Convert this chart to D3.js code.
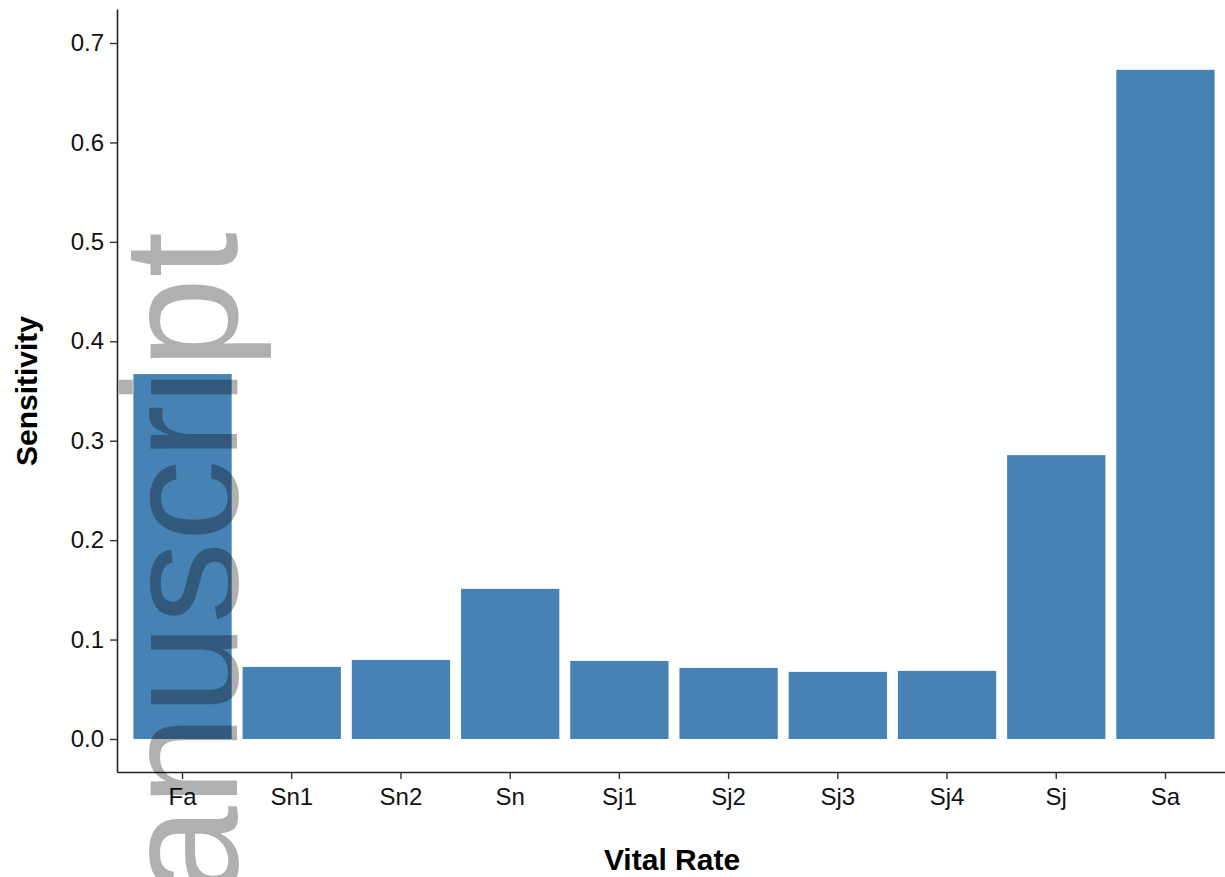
<!DOCTYPE html>
<html>
<head>
<meta charset="utf-8">
<script src="https://cdn.jsdelivr.net/npm/d3@7"></script>
<style>
  html, body { margin: 0; padding: 0; background: #fff; }
  svg { display: block; }
</style>
</head>
<body>
<svg id="chart" width="1225" height="877"></svg>
<script>
// Sensitivity of population growth to each vital rate
const vitalRates = ["Fa", "Sn1", "Sn2", "Sn", "Sj1", "Sj2", "Sj3", "Sj4", "Sj", "Sa"];
const sensitivity = [0.367, 0.0725, 0.0795, 0.151, 0.0785, 0.0715, 0.0675, 0.0685, 0.2855, 0.673];
const yTicks = [0.0, 0.1, 0.2, 0.3, 0.4, 0.5, 0.6, 0.7];

const svg = d3.select("#chart");
const font = "'Liberation Sans', Arial, Helvetica, sans-serif";

const plotLeft = 117, plotBottom = 772, plotTop = 9, plotRight = 1231;

const x = d3.scaleBand()
  .domain(vitalRates)
  .range([plotLeft, plotRight])
  .paddingInner(0.1)
  .paddingOuter(0.15);

const y = d3.scaleLinear()
  .domain([-0.0332, 0.7342])
  .range([plotBottom, plotTop]);

// bars
svg.append("g")
  .selectAll("rect")
  .data(vitalRates)
  .join("rect")
  .attr("x", d => x(d))
  .attr("width", x.bandwidth())
  .attr("y", (d, i) => y(sensitivity[i]))
  .attr("height", (d, i) => y(0) - y(sensitivity[i]))
  .attr("fill", "steelblue");

// y axis
const yAxis = svg.append("g")
  .attr("transform", `translate(${plotLeft},0)`)
  .call(d3.axisLeft(y).tickValues(yTicks).tickFormat(d3.format(".1f")).tickSize(7).tickPadding(6).tickSizeOuter(0));
yAxis.select(".domain").attr("stroke", "#222").attr("stroke-width", 1.6);
yAxis.selectAll(".tick line").attr("stroke", "#333").attr("stroke-width", 1.4);
yAxis.selectAll(".tick text")
  .attr("font-family", font).attr("font-size", 24).attr("fill", "#111");

// x axis
const xAxis = svg.append("g")
  .attr("transform", `translate(0,${plotBottom})`)
  .call(d3.axisBottom(x).tickSize(7).tickPadding(9).tickSizeOuter(0));
xAxis.select(".domain").attr("stroke", "#222").attr("stroke-width", 1.6);
xAxis.selectAll(".tick line").attr("stroke", "#333").attr("stroke-width", 1.4);
xAxis.selectAll(".tick text")
  .attr("font-family", font).attr("font-size", 24).attr("fill", "#111");

// axis titles
svg.append("text")
  .attr("x", 672).attr("y", 870)
  .attr("text-anchor", "middle")
  .attr("font-family", font).attr("font-weight", "bold").attr("font-size", 30)
  .attr("fill", "#000")
  .text("Vital Rate");

svg.append("text")
  .attr("transform", "translate(37,391) rotate(-90)")
  .attr("text-anchor", "middle")
  .attr("font-family", font).attr("font-weight", "bold").attr("font-size", 30)
  .attr("fill", "#000")
  .text("Sensitivity");

// watermark
svg.append("text")
  .attr("transform", "translate(237,232) rotate(-90)")
  .attr("text-anchor", "end")
  .attr("font-family", font).attr("font-size", 164)
  .attr("fill", "#000").attr("fill-opacity", 0.31)
  .text("manuscript");
</script>
</body>
</html>
